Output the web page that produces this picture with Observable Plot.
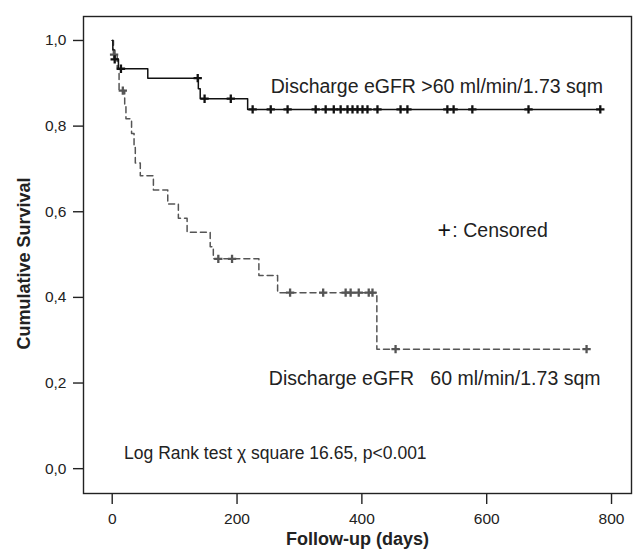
<!DOCTYPE html>
<html><head><meta charset="utf-8">
<script src="https://cdn.jsdelivr.net/npm/d3@7"></script>
<script src="https://cdn.jsdelivr.net/npm/@observablehq/plot@0.6"></script>
<style>
body{margin:0;background:#fff;}
</style>
</head><body><div id="chart"></div>
<script>
// Discharge eGFR >60 (solid)
const hiTimes = [0, 1, 4, 10, 57, 138, 141, 217, 782];
const hiSurv  = [1.0, 0.978, 0.956, 0.934, 0.912, 0.887, 0.864, 0.839, 0.839];
const hiCensorTimes = [4, 14, 137, 148, 190, 225, 254, 281, 326, 342, 355, 366, 377, 385, 393, 401, 409, 425, 462, 473, 537, 547, 577, 667, 782];
// Discharge eGFR <=60 (dashed)
const loTimes = [0, 2, 8, 11, 20, 22, 31, 35, 37, 45, 66, 89, 106, 120, 157, 162, 235, 265, 424, 760];
const loSurv  = [1.0, 0.967, 0.933, 0.883, 0.85, 0.817, 0.783, 0.75, 0.714, 0.684, 0.651, 0.618, 0.585, 0.552, 0.518, 0.49, 0.451, 0.411, 0.279, 0.279];
const loCensorTimes = [3, 17, 170, 192, 285, 338, 374, 382, 395, 411, 417, 454, 760];

const xTicks = [0, 200, 400, 600, 800];
const yTicks = [0, 0.2, 0.4, 0.6, 0.8, 1.0];

const hiLabel = "Discharge eGFR >60 ml/min/1.73 sqm";
const loLabel = "Discharge eGFR\u00a0\u00a0\u00a060 ml/min/1.73 sqm";
const censSymbol = "+";
const censLabel = ": Censored";
const testLabel = "Log Rank test \u03c7 square 16.65, p<0.001";
const xTitle = "Follow-up (days)";
const yTitle = "Cumulative Survival";

const rows = (ts, ss) => ts.map((t, i) => ({t, s: ss[i]}));
const survAt = (ts, ss, t) => { let v = ss[0]; ts.forEach((tt, i) => { if (tt <= t) v = ss[i]; }); return v; };
const hiRows = rows(hiTimes, hiSurv);
const loRows = rows(loTimes, loSurv);
const hiCens = hiCensorTimes.map(t => ({t, s: survAt(hiTimes, hiSurv, t)}));
const loCens = loCensorTimes.map(t => ({t, s: survAt(loTimes, loSurv, t)}));
const fmt = d => d.toFixed(1).replace(".", ",");

const chart = Plot.plot({
  width: 636, height: 551,
  marginLeft: 83, marginRight: 5, marginTop: 16, marginBottom: 58,
  style: {fontFamily: "'Liberation Sans', Arial, Helvetica, sans-serif", background: "#fff", color: "#222"},
  x: {domain: [-46, 832]},
  y: {domain: [-0.058, 1.056]},
  marks: [
    Plot.frame({stroke: "#222", strokeWidth: 1.4}),
    Plot.axisX({ticks: xTicks, tickSize: 11, tickPadding: 8, fontSize: 15.5, label: null, strokeWidth: 1.4}),
    Plot.axisY({ticks: yTicks, tickSize: 10, tickPadding: 7, tickFormat: fmt, fontSize: 15.5, label: null, strokeWidth: 1.4}),
    Plot.line(loRows, {x: "t", y: "s", curve: "step-after", stroke: "#555", strokeWidth: 1.5, strokeDasharray: "6,4"}),
    Plot.line(hiRows, {x: "t", y: "s", curve: "step-after", stroke: "#111", strokeWidth: 1.5}),
    Plot.dot(loCens, {x: "t", y: "s", symbol: "plus", r: 2.8, stroke: "#555", strokeWidth: 2.3}),
    Plot.dot(hiCens, {x: "t", y: "s", symbol: "plus", r: 2.8, stroke: "#111", strokeWidth: 2.3}),
    Plot.text([hiLabel], {x: 254, y: 0.892, text: d => d, textAnchor: "start", fontSize: 19.5, fill: "#222"}),
    Plot.text([loLabel], {x: 251, y: 0.21, text: d => d, textAnchor: "start", fontSize: 19.5, fill: "#222"}),
    Plot.text([censSymbol], {x: 521, y: 0.556, text: d => d, textAnchor: "start", fontSize: 23, fill: "#111"}),
    Plot.text([censLabel], {x: 545, y: 0.556, text: d => d, textAnchor: "start", fontSize: 19.5, fill: "#222"}),
    Plot.text([testLabel], {x: 19, y: 0.036, text: d => d, textAnchor: "start", fontSize: 17.5, fill: "#222"}),
    Plot.text([xTitle], {frameAnchor: "bottom", dy: 51, text: d => d, fontSize: 18, fontWeight: "bold", fill: "#222"}),
    Plot.text([yTitle], {x: -141, y: 0.479, rotate: -90, text: d => d, fontSize: 18, fontWeight: "bold", fill: "#222"})
  ]
});
document.getElementById("chart").appendChild(chart);
</script>
</body></html>
